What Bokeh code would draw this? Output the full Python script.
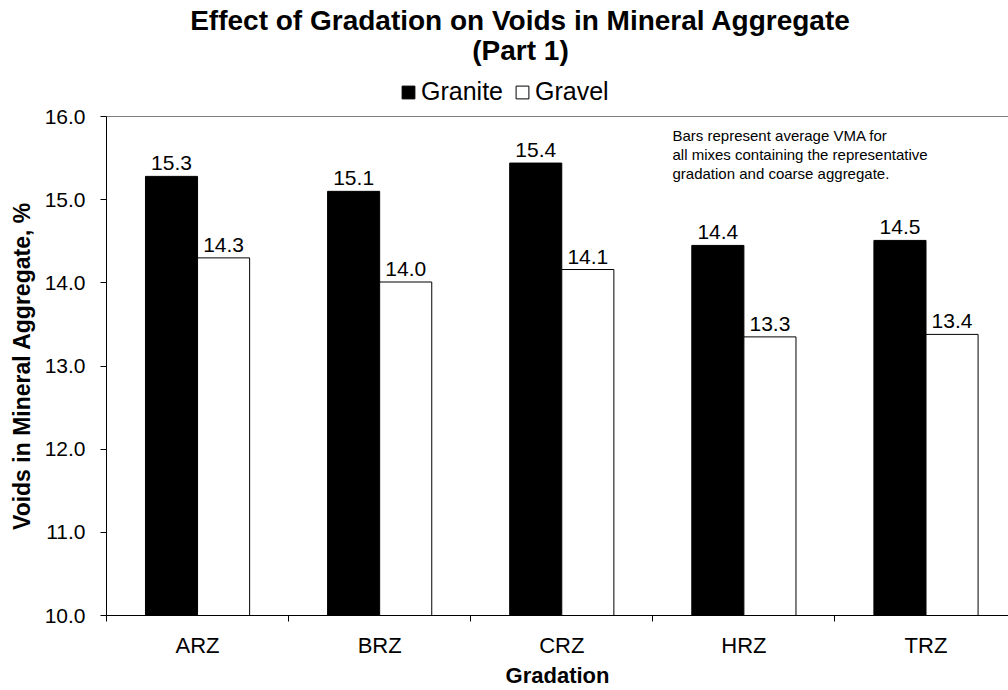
from bokeh.plotting import figure
from bokeh.layouts import column
from bokeh.models import (ColumnDataSource, FixedTicker, Label, Legend, LegendItem,
                          Span, PrintfTickFormatter, Range1d)
from bokeh.core.properties import value
from bokeh.transform import dodge
from bokeh.embed import file_html
from bokeh.resources import INLINE

# ---- data ----
categories = ["ARZ", "BRZ", "CRZ", "HRZ", "TRZ"]
granite = [15.28, 15.10, 15.44, 14.45, 14.51]
gravel = [14.30, 14.01, 14.16, 13.35, 13.38]
granite_labels = ["15.3", "15.1", "15.4", "14.4", "14.5"]
gravel_labels = ["14.3", "14.0", "14.1", "13.3", "13.4"]
series_names = ["Granite", "Gravel"]
y_ticks = [10.0, 11.0, 12.0, 13.0, 14.0, 15.0, 16.0]
title_lines = ["Effect of Gradation on Voids in Mineral Aggregate", "(Part 1)"]
note_lines = ["Bars represent  average VMA for",
              "all mixes containing the representative",
              "gradation and coarse aggregate."]

FONT = "Liberation Sans"
W = 1008
HEAD_H = 106
MAIN_H = 584
LEFT = 106

xs = list(range(len(categories)))
src = ColumnDataSource(dict(x=xs, granite=granite, gravel=gravel,
                            gl=granite_labels, vl=gravel_labels))
BW = 0.286

# ---------------- header (titles + legend) ----------------
h = figure(width=W, height=HEAD_H, output_backend="svg", toolbar_location=None,
           x_axis_location=None, y_axis_location=None,
           x_range=Range1d(100, 101), y_range=Range1d(100, 101),
           min_border_left=LEFT, min_border_right=0, min_border_top=0, min_border_bottom=0)
h.title.visible = False
h.outline_line_color = None
h.xgrid.visible = False
h.ygrid.visible = False
h.background_fill_color = "white"
h.border_fill_color = "white"

for txt, yy in zip(title_lines, [86, 56]):
    h.add_layout(Label(x=414, y=yy, x_units="screen", y_units="screen", text=txt,
                       text_align="center", text_baseline="middle",
                       text_font=FONT, text_font_size="28px", text_font_style="bold",
                       text_color="black"))

# legend proxies: same series, kept outside this header's visible range
lg1 = h.vbar(x="x", top="granite", bottom=10, width=BW, source=src,
             fill_color="black", line_color="black")
lg2 = h.vbar(x="x", top="gravel", bottom=10, width=BW, source=src,
             fill_color="white", line_color="black")
legend = Legend(items=[LegendItem(label=series_names[0], renderers=[lg1]),
                       LegendItem(label=series_names[1], renderers=[lg2])],
                location=(294, 0), orientation="horizontal",
                glyph_width=16, glyph_height=16, label_standoff=5, spacing=11,
                padding=0, margin=0, border_line_color=None, background_fill_alpha=0,
                label_text_font=FONT, label_text_font_size="25px",
                label_text_color="black")
h.add_layout(legend)

# ---------------- main chart ----------------
p = figure(width=W, height=MAIN_H, output_backend="svg", toolbar_location=None,
           x_range=Range1d(-0.5, 4.453), y_range=Range1d(10, 16),
           min_border_left=LEFT, min_border_right=0, min_border_top=10,
           min_border_bottom=75)
p.title.visible = False
p.outline_line_color = None
p.background_fill_color = "white"
p.border_fill_color = "white"
p.xgrid.visible = False
p.ygrid.visible = False

p.vbar(x=dodge("x", -BW / 2), top="granite", bottom=10, width=BW, source=src,
       fill_color="black", line_color="black", line_width=1)
p.vbar(x=dodge("x", BW / 2), top="gravel", bottom=10, width=BW, source=src,
       fill_color="white", line_color="black", line_width=1)

p.text(x=dodge("x", -BW / 2), y="granite", text="gl", source=src, y_offset=-13,
       text_align="center", text_baseline="alphabetic", text_font_size="21px",
       text_font=value(FONT), text_color="black")
p.text(x=dodge("x", BW / 2), y="gravel", text="vl", source=src, y_offset=-13,
       text_align="center", text_baseline="alphabetic", text_font_size="21px",
       text_font=value(FONT), text_color="black")

p.add_layout(Span(location=16, dimension="width", line_color="black", line_width=1))

xa = p.xaxis[0]
xa.ticker = FixedTicker(ticks=xs, minor_ticks=[i - 0.5 for i in range(len(categories) + 1)])
xa.major_label_overrides = {i: c for i, c in enumerate(categories)}
xa.major_tick_out = 0
xa.major_tick_in = 0
xa.minor_tick_out = 6
xa.minor_tick_in = 0
xa.minor_tick_line_color = "black"
xa.major_label_standoff = 11
xa.major_label_text_font = FONT
xa.major_label_text_font_size = "22px"
xa.major_label_text_color = "black"
xa.axis_label = "Gradation"
xa.axis_label_text_font = FONT
xa.axis_label_text_font_size = "22px"
xa.axis_label_text_font_style = "bold"
xa.axis_label_text_color = "black"
xa.axis_label_standoff = 2
xa.axis_line_color = "black"

ya = p.yaxis[0]
ya.ticker = FixedTicker(ticks=y_ticks, minor_ticks=[])
ya.formatter = PrintfTickFormatter(format="%.1f")
ya.major_tick_out = 6
ya.major_tick_in = 0
ya.major_tick_line_color = "black"
ya.minor_tick_line_color = None
ya.major_label_standoff = 15
ya.major_label_text_font = FONT
ya.major_label_text_font_size = "21px"
ya.major_label_text_color = "black"
ya.axis_label = "Voids in Mineral Aggregate, %"
ya.axis_label_text_font = FONT
ya.axis_label_text_font_size = "23px"
ya.axis_label_text_font_style = "bold"
ya.axis_label_text_color = "black"
ya.axis_label_standoff = 7
ya.axis_line_color = "black"

for i, txt in enumerate(note_lines):
    p.add_layout(Label(x=566, y=480 - 19 * i, x_units="screen", y_units="screen", text=txt,
                       text_align="left", text_baseline="middle",
                       text_font=FONT, text_font_size="15px", text_color="black"))

layout = column(h, p, spacing=0)
open("out.html", "w").write(file_html(layout, INLINE))
